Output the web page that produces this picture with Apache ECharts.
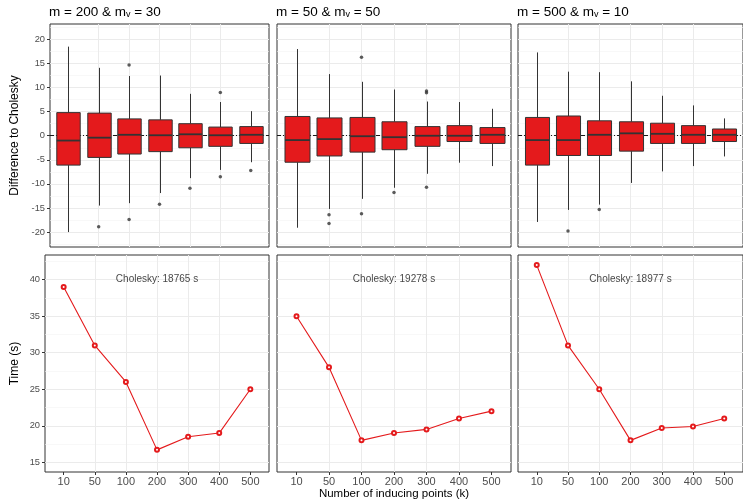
<!DOCTYPE html>
<html>
<head>
<meta charset="utf-8">
<script src="https://cdn.jsdelivr.net/npm/echarts@6/dist/echarts.min.js"></script>
<style>
  html, body { margin: 0; padding: 0; background: #fff; }
  #chart { width: 743px; height: 504px; }
</style>
</head>
<body>
<div id="chart"></div>
<script>
// inducing points (k), one box / point per value
const kLabels = ['10', '50', '100', '200', '300', '400', '500']

const panelTitles = [
  '{a|m = 200 & m}{s|v}{a| = 30}',
  '{a|m = 50 & m}{s|v}{a| = 50}',
  '{a|m = 500 & m}{s|v}{a| = 10}'
]

// box stats per k: [lower whisker, Q1, median, Q3, upper whisker]
const boxM200 = [
  [-20.0, -6.1, -1.0, 4.8, 18.5],
  [-14.5, -4.5, -0.4, 4.7, 14.1],
  [-14.0, -3.8, 0.2, 3.5, 12.4],
  [-11.9, -3.3, 0.1, 3.3, 12.5],
  [-8.8, -2.5, 0.3, 2.5, 8.7],
  [-7.1, -2.2, 0.1, 1.8, 7.0],
  [-5.5, -1.6, 0.2, 1.9, 5.1]
]
const boxM50 = [
  [-19.1, -5.5, -0.9, 4.0, 18.0],
  [-15.2, -4.2, -0.7, 3.7, 12.8],
  [-13.1, -3.4, -0.1, 3.8, 11.2],
  [-10.8, -2.9, -0.3, 2.9, 9.6],
  [-7.9, -2.2, 0.0, 1.9, 7.1],
  [-5.6, -1.2, 0.0, 2.1, 7.0],
  [-6.3, -1.6, 0.2, 1.7, 5.6]
]
const boxM500 = [
  [-17.9, -6.1, -0.9, 3.8, 17.3],
  [-15.4, -4.1, -0.9, 4.1, 13.3],
  [-14.3, -4.1, 0.2, 3.1, 13.2],
  [-9.8, -3.2, 0.5, 2.9, 11.3],
  [-7.4, -1.6, 0.4, 2.6, 8.3],
  [-6.3, -1.6, 0.2, 2.1, 6.3],
  [-4.3, -1.2, 0.2, 1.4, 3.6]
]

// outliers: [k index, difference]
const outM200 = [[1, -18.9], [2, 14.7], [2, -17.4], [3, -14.2], [4, -10.9], [5, 9.0], [5, -8.5], [6, -7.2]]
const outM50 = [[1, -16.4], [1, -18.2], [2, 16.3], [2, -16.2], [3, -11.8], [4, 9.3], [4, 8.9], [4, -10.7]]
const outM500 = [[1, -19.8], [2, -15.3]]

// time (s) per k
const timeM200 = [39, 31, 26, 16.7, 18.5, 19, 25]
const timeM50 = [35, 28, 18, 19, 19.5, 21, 22]
const timeM500 = [42, 31, 25, 18, 19.7, 19.9, 21]

const choleskyText = ['Cholesky: 18765 s', 'Cholesky: 19278 s', 'Cholesky: 18977 s']
const choleskyAt = [3, 40] // k index, time

const boxes = [boxM200, boxM50, boxM500]
const outliers = [outM200, outM50, outM500]
const times = [timeM200, timeM50, timeM500]

const FONT = 'Liberation Sans'
const RED = '#E41A1C'
const idx = kLabels.map((d, i) => i)

const topGrids = [
  { left: 50, top: 24, width: 219, height: 223 },
  { left: 277, top: 24, width: 234, height: 223 },
  { left: 518, top: 24, width: 234, height: 223 }
]
const bottomGrids = [
  { left: 45, top: 255, width: 224, height: 217 },
  { left: 277, top: 255, width: 234, height: 217 },
  { left: 518, top: 255, width: 234, height: 217 }
]

const gridStyle = { show: true, borderColor: '#333333', borderWidth: 1, backgroundColor: '#fff' }

function renderBox(params, api) {
  const x = api.value(0)
  const lo = api.coord([x, api.value(1)])
  const q1 = api.coord([x, api.value(2)])
  const med = api.coord([x, api.value(3)])
  const q3 = api.coord([x, api.value(4)])
  const hi = api.coord([x, api.value(5)])
  const half = api.size([0.77, 0])[0] / 2
  const cx = Math.round(lo[0]) + 0.5
  return {
    type: 'group',
    children: [
      { type: 'line', shape: { x1: cx, y1: lo[1], x2: cx, y2: q1[1] }, style: { stroke: '#333', lineWidth: 1 } },
      { type: 'line', shape: { x1: cx, y1: q3[1], x2: cx, y2: hi[1] }, style: { stroke: '#333', lineWidth: 1 } },
      { type: 'rect', shape: { x: cx - half, y: q3[1], width: half * 2, height: q1[1] - q3[1] }, style: { fill: RED, stroke: '#333', lineWidth: 1 } },
      { type: 'line', shape: { x1: cx - half, y1: med[1], x2: cx + half, y2: med[1] }, style: { stroke: '#333', lineWidth: 1.8 } }
    ]
  }
}

function xAxisFor(gridIndex, bottom) {
  return {
    type: 'value',
    gridIndex: gridIndex,
    min: -0.6,
    max: 6.6,
    splitNumber: 7,
    axisLine: { show: false, onZero: false },
    axisTick: { show: bottom, length: 3, customValues: idx, lineStyle: { color: '#333' } },
    axisLabel: {
      show: bottom,
      customValues: idx,
      formatter: v => kLabels[Math.round(v)] || '',
      fontSize: 11,
      fontFamily: FONT,
      color: '#4d4d4d',
      margin: 4
    },
    splitLine: { show: true, showMinLine: false, showMaxLine: false, lineStyle: { color: '#ebebeb', width: 1 } }
  }
}

function yAxisFor(gridIndex, first, range, split) {
  return {
    type: 'value',
    gridIndex: gridIndex,
    min: range[0],
    max: range[1],
    splitNumber: split,
    axisLine: { show: false, onZero: false },
    axisTick: { show: first, length: 3, lineStyle: { color: '#333' } },
    axisLabel: {
      show: first,
      showMinLabel: false,
      showMaxLabel: false,
      fontSize: 9.3,
      fontFamily: FONT,
      color: '#4d4d4d',
      margin: 5
    },
    minorTick: { show: false, splitNumber: 2 },
    splitLine: { show: true, showMinLine: false, showMaxLine: false, lineStyle: { color: '#ebebeb', width: 1 } },
    minorSplitLine: { show: true, lineStyle: { color: '#f3f3f3', width: 0.6 } }
  }
}

const grid = topGrids.concat(bottomGrids).map(g => Object.assign({}, gridStyle, g))
const xAxis = []
const yAxis = []
for (let i = 0; i < 3; i++) {
  xAxis.push(xAxisFor(i, false))
  yAxis.push(yAxisFor(i, i === 0, [-23.1, 23.2], 8))
}
for (let i = 0; i < 3; i++) {
  xAxis.push(xAxisFor(3 + i, true))
  yAxis.push(yAxisFor(3 + i, i === 0, [13.67, 43.38], 6))
}
Object.assign(yAxis[0], {
  name: 'Difference to Cholesky', nameLocation: 'middle', nameGap: 29,
  nameTextStyle: { fontSize: 12, fontFamily: FONT, color: '#000' }
})
Object.assign(yAxis[3], {
  name: 'Time (s)', nameLocation: 'middle', nameGap: 24,
  nameTextStyle: { fontSize: 12, fontFamily: FONT, color: '#000' }
})
Object.assign(xAxis[4], {
  name: 'Number of inducing points (k)', nameLocation: 'middle', nameGap: 14,
  nameTextStyle: { fontSize: 11.5, fontFamily: FONT, color: '#000' }
})

const series = []
for (let i = 0; i < 3; i++) {
  series.push({
    type: 'scatter',
    xAxisIndex: i,
    yAxisIndex: i,
    z: 1,
    symbolSize: 3.5,
    itemStyle: { color: '#333' },
    data: outliers[i],
    markLine: {
      silent: true,
      symbol: 'none',
      z: 1,
      label: { show: false },
      lineStyle: { color: '#000', width: 0.9, type: [4, 2, 1, 2] },
      data: [{ yAxis: 0 }]
    }
  })
  series.push({
    type: 'custom',
    xAxisIndex: i,
    yAxisIndex: i,
    z: 3,
    renderItem: renderBox,
    encode: { x: 0, y: [1, 2, 3, 4, 5] },
    data: boxes[i].map((b, j) => [j].concat(b))
  })
  series.push({
    type: 'line',
    xAxisIndex: 3 + i,
    yAxisIndex: 3 + i,
    symbol: 'emptyCircle',
    symbolSize: 4,
    lineStyle: { color: RED, width: 1.1 },
    itemStyle: { color: RED, borderWidth: 0.8 },
    data: times[i].map((t, j) => [j, t])
  })
  series.push({
    type: 'scatter',
    xAxisIndex: 3 + i,
    yAxisIndex: 3 + i,
    symbolSize: 0,
    itemStyle: { color: 'rgba(0,0,0,0)' },
    label: { show: true, position: 'inside', formatter: choleskyText[i], fontSize: 10, fontFamily: FONT, color: '#111' },
    data: [choleskyAt]
  })
}

const chart = echarts.init(document.getElementById('chart'), null, { renderer: 'canvas' })
chart.setOption({
  animation: false,
  backgroundColor: '#fff',
  title: panelTitles.map((t, i) => ({
    text: t,
    left: topGrids[i].left - 1,
    top: 3,
    padding: 0,
    textStyle: {
      fontFamily: FONT,
      fontWeight: 'normal',
      color: '#000',
      rich: {
        a: { fontSize: 13.5, fontFamily: FONT, color: '#000', verticalAlign: 'bottom', lineHeight: 16 },
        s: { fontSize: 9, fontFamily: FONT, color: '#000', verticalAlign: 'bottom', lineHeight: 9 }
      }
    }
  })),
  grid: grid,
  xAxis: xAxis,
  yAxis: yAxis,
  series: series
})
</script>
</body>
</html>
